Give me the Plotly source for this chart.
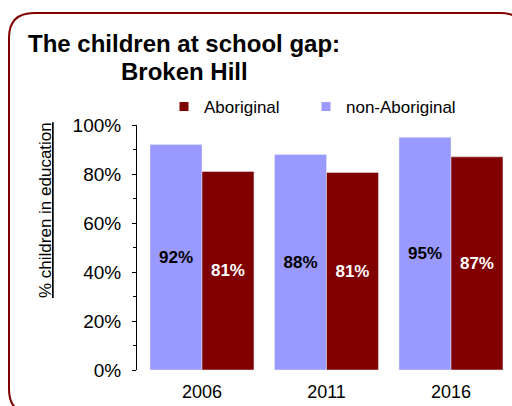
import plotly.graph_objects as go

years = ["2006", "2011", "2016"]
non_aboriginal = [92, 88, 95]
aboriginal = [81, 80.6, 87]
non_ab_labels = ["92%", "88%", "95%"]
ab_labels = ["81%", "81%", "87%"]
y_ticks = [0, 20, 40, 60, 80, 100]
y_tick_labels = ["0%", "20%", "40%", "60%", "80%", "100%"]

FONT = "Liberation Sans, Arial, Helvetica, sans-serif"
RED = "#800000"
LAV = "#9999FF"

W, H = 512, 406
L, R, T, B = 137, 0, 125, 36
PW, PH = W - L - R, H - T - B

def px(X):
    return (X - L) / PW

def py(Y):
    return (H - B - Y) / PH

fig = go.Figure()
fig.add_trace(go.Bar(
    x=years, y=non_aboriginal, name="non-Aboriginal", marker_color=LAV,
    text=non_ab_labels, textposition="inside", insidetextanchor="middle",
    textangle=0, textfont=dict(family=FONT, size=17, color="black", weight="bold"),
    showlegend=False, cliponaxis=False,
))
fig.add_trace(go.Bar(
    x=years, y=aboriginal, name="Aboriginal", marker_color=RED,
    text=ab_labels, textposition="inside", insidetextanchor="middle",
    textangle=0, textfont=dict(family=FONT, size=17, color="white", weight="bold"),
    showlegend=False, cliponaxis=False,
))
# legend entries
fig.add_trace(go.Scatter(x=[None], y=[None], mode="markers", name="Aboriginal",
                         marker=dict(symbol="square", size=9, color=RED), legend="legend"))
fig.add_trace(go.Scatter(x=[None], y=[None], mode="markers", name="non-Aboriginal",
                         marker=dict(symbol="square", size=9, color=LAV), legend="legend2"))

# rounded border
x0, y0, x1, y1, r = 9, 13, 525, 414, 25
path = (
    f"M {px(x0 + r)},{py(y0)} L {px(x1 - r)},{py(y0)} "
    f"Q {px(x1)},{py(y0)} {px(x1)},{py(y0 + r)} "
    f"L {px(x1)},{py(y1 - r)} Q {px(x1)},{py(y1)} {px(x1 - r)},{py(y1)} "
    f"L {px(x0 + r)},{py(y1)} Q {px(x0)},{py(y1)} {px(x0)},{py(y1 - r)} "
    f"L {px(x0)},{py(y0 + r)} Q {px(x0)},{py(y0)} {px(x0 + r)},{py(y0)} Z"
)
fig.add_shape(type="path", path=path, xref="paper", yref="paper",
              line=dict(color=RED, width=2), layer="below")

legend_style = dict(orientation="h", xanchor="left", y=py(107), yanchor="middle",
                    font=dict(family=FONT, size=17, color="black"),
                    bgcolor="rgba(0,0,0,0)", borderwidth=0)

fig.update_layout(
    width=W, height=H,
    margin=dict(l=L, r=R, t=T, b=B, pad=0),
    paper_bgcolor="white", plot_bgcolor="white",
    font=dict(family=FONT, color="black"),
    barmode="group", bargap=0.165, bargroupgap=0,
    showlegend=True,
    legend=dict(x=px(164), **legend_style),
    legend2=dict(x=px(306), **legend_style),
    xaxis=dict(range=[-0.522, 2.49], showline=False, ticks="", showgrid=False,
               zeroline=False, tickfont=dict(family=FONT, size=18, color="black"),
               ticklabelstandoff=9, fixedrange=True),
    yaxis=dict(range=[0, 100], tickvals=y_ticks, ticktext=y_tick_labels,
               showline=True, linecolor="black", linewidth=1,
               ticks="outside", ticklen=4, tickcolor="black", tickwidth=1,
               minor=dict(dtick=10, ticks="outside", ticklen=3, tickcolor="black"),
               showgrid=False, zeroline=False,
               tickfont=dict(family=FONT, size=19, color="black"),
               ticklabelstandoff=7, fixedrange=True),
    annotations=[
        dict(text="<b>The children at school gap:</b>", x=px(184), y=py(43),
             xref="paper", yref="paper", xanchor="center", yanchor="middle",
             showarrow=False, font=dict(family=FONT, size=24, color="black")),
        dict(text="<b>Broken Hill</b>", x=px(184), y=py(71),
             xref="paper", yref="paper", xanchor="center", yanchor="middle",
             showarrow=False, font=dict(family=FONT, size=24, color="black")),
        dict(text="<u>% children in education</u>", x=px(45), y=py(210),
             xref="paper", yref="paper", xanchor="center", yanchor="middle",
             textangle=-90, showarrow=False,
             font=dict(family=FONT, size=17, color="black")),
    ],
)

fig.write_html(
    "out.html",
    config={"displayModeBar": False},
    post_script="document.body.style.margin='0';document.body.style.padding='0';"
                "document.body.style.overflow='hidden';",
)
